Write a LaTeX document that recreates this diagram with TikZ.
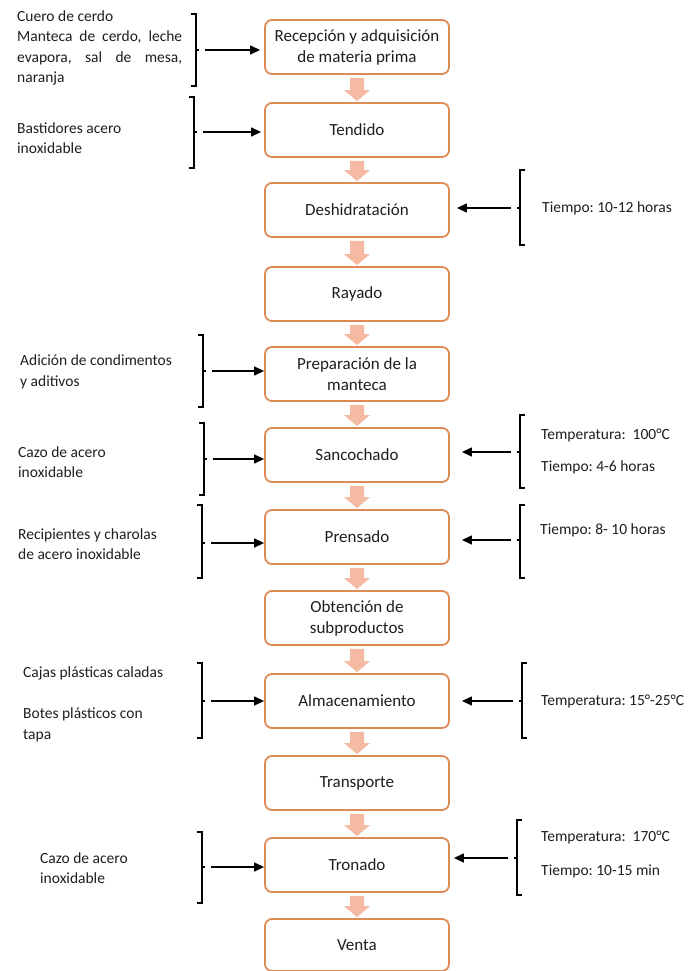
\documentclass[tikz,border=0pt]{standalone}
\usepackage{fontspec}
\setmainfont{Carlito}
\usetikzlibrary{calc,arrows.meta}
\definecolor{boxline}{RGB}{222,138,84}
\definecolor{flow}{RGB}{245,186,162}
\definecolor{ink}{RGB}{30,30,30}
\frenchspacing
\newcommand\flowarrow[2]{\fill[flow] ($(#1.south)+(-7,3)$) -- ($(#2.north)+(-7,-12)$) -- ($(#2.north)+(-13,-12)$) -- ($(#2.north)+(0,-1)$) -- ($(#2.north)+(13,-12)$) -- ($(#2.north)+(7,-12)$) -- ($(#1.south)+(7,3)$) -- cycle;}
% left bracket: x, top, bottom, mid, coordinate name
\newcommand\brkL[5]{\draw[brk] (#1-5,#2) -- (#1,#2) -- (#1,#3) -- (#1-5,#3); \draw[brk] (#1,#4) -- (#1+3,#4); \coordinate (#5) at (#1+9,#4);}
\newcommand\brkR[5]{\draw[brk] (#1+5,#2) -- (#1,#2) -- (#1,#3) -- (#1+5,#3); \draw[brk] (#1,#4) -- (#1-3,#4); \coordinate (#5) at (#1-9,#4);}
\begin{document}
\frenchspacing
\begin{tikzpicture}[x=1pt,y=-1pt,
  stepbox/.style={draw=boxline, line width=1.8pt, rounded corners=7pt, minimum width=184pt, minimum height=54pt, align=center, font=\fontsize{17}{21}\selectfont, text=ink, inner sep=0pt},
  lbl/.style={anchor=west, font=\fontsize{15.5}{20.5}\selectfont, text=ink, inner sep=0pt, align=left},
  brk/.style={line width=1.3pt, black},
  sidearrow/.style={line width=1.3pt, black, -{Triangle[length=10pt,width=9pt]}},
]
\useasboundingbox (0,0) rectangle (688,971);

\node[stepbox] (b1) at (357,47) {Recepción y adquisición\\de materia prima};
\node[stepbox] (b2) at (357,130) {Tendido};
\node[stepbox] (b3) at (357,210) {Deshidratación};
\node[stepbox] (b4) at (357,294) {Rayado};
\node[stepbox] (b5) at (357,374) {Preparación de la\\manteca};
\node[stepbox] (b6) at (357,455) {Sancochado};
\node[stepbox] (b7) at (357,537) {Prensado};
\node[stepbox] (b8) at (357,618) {Obtención de\\subproductos};
\node[stepbox] (b9) at (357,701) {Almacenamiento};
\node[stepbox] (b10) at (357,783) {Transporte};
\node[stepbox] (b11) at (357,865) {Tronado};
\node[stepbox, minimum height=52pt] (b12) at (357,945) {Venta};

\flowarrow{b1}{b2}
\flowarrow{b2}{b3}
\flowarrow{b3}{b4}
\flowarrow{b4}{b5}
\flowarrow{b5}{b6}
\flowarrow{b6}{b7}
\flowarrow{b7}{b8}
\flowarrow{b8}{b9}
\flowarrow{b9}{b10}
\flowarrow{b10}{b11}
\flowarrow{b11}{b12}

% left side
\node[lbl] (t1) at (17,48) {Cuero de cerdo\\\makebox[165pt][s]{Manteca de cerdo, leche}\\\makebox[165pt][s]{evapora, sal de mesa,}\\naranja};
\brkL{196}{14}{86}{50}{l1}
\draw[sidearrow, shorten >=4pt] (l1) -- (b1.west |- l1);

\node[lbl] (t2) at (17,138) {Bastidores acero\\inoxidable};
\brkL{194}{97}{168}{132}{l2}
\draw[sidearrow, shorten >=3pt] (l2) -- (b2.west |- l2);

\node[lbl] (t5) at (20,372) {Adición de condimentos\\y aditivos};
\brkL{203}{335}{407}{371}{l5}
\draw[sidearrow] (l5) -- (b5.west |- l5);

\node[lbl] (t6) at (18,462) {Cazo de acero\\inoxidable};
\brkL{204}{423}{495}{459}{l6}
\draw[sidearrow] (l6) -- (b6.west |- l6);

\node[lbl] (t7) at (18,544) {Recipientes y charolas\\de acero inoxidable};
\brkL{202}{505}{578}{543}{l7}
\draw[sidearrow] (l7) -- (b7.west |- l7);

\node[lbl] (t9a) at (23,673) {Cajas plásticas caladas};
\node[lbl] (t9b) at (23,725) {Botes plásticos con\\tapa};
\brkL{202}{663}{738}{701}{l9}
\draw[sidearrow] (l9) -- (b9.west |- l9);

\node[lbl] (t11) at (40,868) {Cazo de acero\\inoxidable};
\brkL{202}{832}{903}{867}{l11}
\draw[sidearrow] (l11) -- (b11.west |- l11);

% right side
\brkR{520}{170}{245}{208}{r3}
\draw[sidearrow, shorten >=7pt] (r3) -- (b3.east |- r3);
\node[lbl] (u3) at (542,208) {Tiempo: 10-12 horas};

\brkR{520}{415}{488}{452}{r6}
\draw[sidearrow, shorten >=12pt] (r6) -- (b6.east |- r6);
\node[lbl] (u6a) at (541,435) {Temperatura:~ 100°C};
\node[lbl] (u6b) at (541,467) {Tiempo: 4-6 horas};

\brkR{520}{505}{578}{540}{r7}
\draw[sidearrow, shorten >=12pt] (r7) -- (b7.east |- r7);
\node[lbl] (u7) at (540,530) {Tiempo: 8- 10 horas};

\brkR{522}{663}{738}{701}{r9}
\draw[sidearrow, shorten >=12pt] (r9) -- (b9.east |- r9);
\node[lbl] (u9) at (541,701) {Temperatura: 15°-25°C};

\brkR{517}{820}{895}{858}{r11}
\draw[sidearrow, shorten >=4pt] (r11) -- (b11.east |- r11);
\node[lbl] (u11a) at (541,837) {Temperatura:~ 170°C};
\node[lbl] (u11b) at (541,871) {Tiempo: 10-15 min};
\end{tikzpicture}
\end{document}
